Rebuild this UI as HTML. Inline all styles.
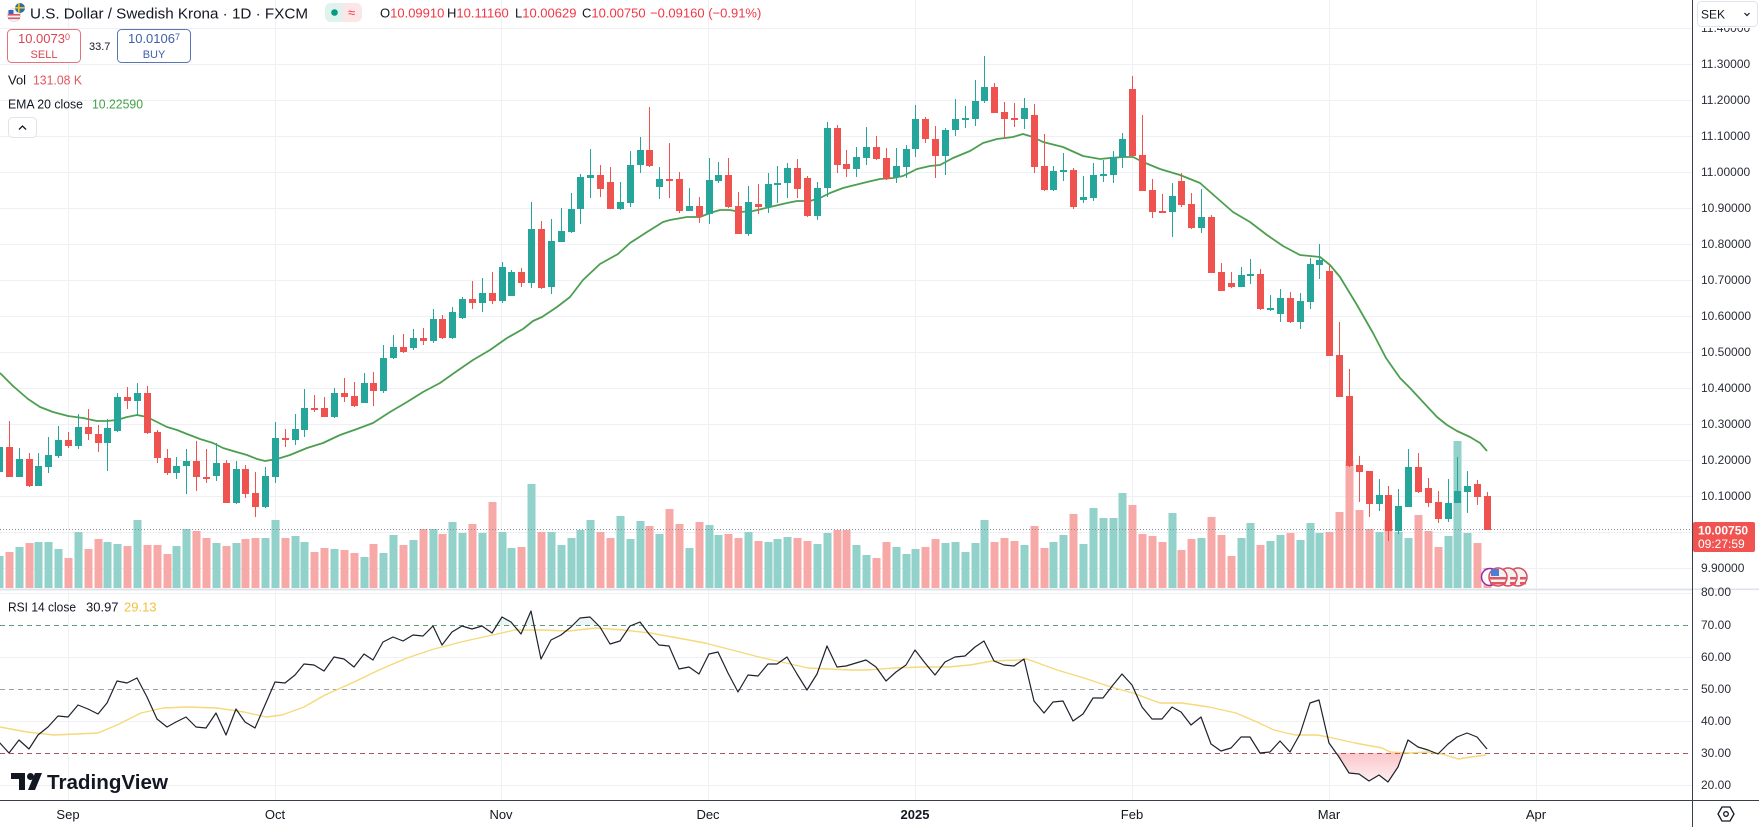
<!DOCTYPE html>
<html><head><meta charset="utf-8">
<style>
html,body{margin:0;padding:0;background:#fff;}
body{width:1759px;height:827px;overflow:hidden;position:relative;font-family:"Liberation Sans",sans-serif;}
svg{position:absolute;left:0;top:0;}
text{font-family:"Liberation Sans",sans-serif;}
</style></head>
<body>
<svg width="1759" height="827" viewBox="0 0 1759 827" xmlns="http://www.w3.org/2000/svg">
<defs>
<clipPath id="cp"><rect x="0" y="0" width="1692" height="589"/></clipPath>
<clipPath id="cr"><rect x="0" y="590" width="1692" height="210"/></clipPath>
<clipPath id="ct"><rect x="1693" y="28" width="66" height="10"/></clipPath>
<linearGradient id="osg" x1="0" y1="0" x2="0" y2="1"><stop offset="0" stop-color="#f23645" stop-opacity="0.28"/><stop offset="1" stop-color="#f23645" stop-opacity="0.08"/></linearGradient>
</defs>
<rect width="1759" height="827" fill="#fff"/>
<!-- grid price pane -->
<g stroke="#eef0f3" stroke-width="1" shape-rendering="crispEdges">
<path d="M0 28.5H1692M0 64.5H1692M0 100.5H1692M0 136.5H1692M0 172.5H1692M0 208.5H1692M0 244.5H1692M0 280.5H1692M0 316.5H1692M0 352.5H1692M0 388.5H1692M0 424.5H1692M0 460.5H1692M0 496.5H1692M0 532.5H1692M0 568.5H1692"/>
<path d="M0 593.5H1692M0 657.5H1692M0 721.5H1692M0 785.5H1692"/>
<path d="M68.5 0V800M275.5 0V800M501.5 0V800M708.5 0V800M915.5 0V800M1132.5 0V800M1329.5 0V800M1536.5 0V800"/>
</g>
<!-- pane separator -->
<path d="M0 589.5H1759" stroke="#e0e3eb" stroke-width="2"/>
<g clip-path="url(#cp)">
<!-- volume -->
<path fill="#92d2cb" d="M-4.5 556h8V588h-8zM15.5 547h8V588h-8zM34.5 542h8V588h-8zM44.5 542h8V588h-8zM54.5 549h8V588h-8zM74.5 532h8V588h-8zM103.5 542h8V588h-8zM113.5 544h8V588h-8zM133.5 520h8V588h-8zM172.5 546h8V588h-8zM182.5 529h8V588h-8zM212.5 543h8V588h-8zM232.5 543h8V588h-8zM261.5 538h8V588h-8zM271.5 520h8V588h-8zM291.5 536h8V588h-8zM300.5 542h8V588h-8zM330.5 549h8V588h-8zM360.5 557h8V588h-8zM379.5 553h8V588h-8zM389.5 535h8V588h-8zM409.5 540h8V588h-8zM429.5 529h8V588h-8zM448.5 522h8V588h-8zM458.5 533h8V588h-8zM478.5 533h8V588h-8zM498.5 532h8V588h-8zM507.5 548h8V588h-8zM527.5 484h8V588h-8zM547.5 532h8V588h-8zM557.5 545h8V588h-8zM567.5 538h8V588h-8zM576.5 530h8V588h-8zM586.5 520h8V588h-8zM616.5 516h8V588h-8zM626.5 539h8V588h-8zM636.5 521h8V588h-8zM655.5 534h8V588h-8zM685.5 548h8V588h-8zM705.5 525h8V588h-8zM714.5 535h8V588h-8zM744.5 532h8V588h-8zM764.5 542h8V588h-8zM773.5 539h8V588h-8zM783.5 537h8V588h-8zM813.5 544h8V588h-8zM823.5 533h8V588h-8zM852.5 545h8V588h-8zM862.5 555h8V588h-8zM892.5 547h8V588h-8zM902.5 554h8V588h-8zM911.5 549h8V588h-8zM941.5 543h8V588h-8zM951.5 542h8V588h-8zM961.5 552h8V588h-8zM971.5 543h8V588h-8zM980.5 520h8V588h-8zM1020.5 545h8V588h-8zM1049.5 542h8V588h-8zM1059.5 535h8V588h-8zM1079.5 544h8V588h-8zM1089.5 508h8V588h-8zM1099.5 518h8V588h-8zM1109.5 518h8V588h-8zM1118.5 493h8V588h-8zM1168.5 513h8V588h-8zM1197.5 538h8V588h-8zM1237.5 538h8V588h-8zM1246.5 523h8V588h-8zM1266.5 541h8V588h-8zM1276.5 535h8V588h-8zM1296.5 540h8V588h-8zM1306.5 523h8V588h-8zM1315.5 533h8V588h-8zM1375.5 532h8V588h-8zM1394.5 532h8V588h-8zM1404.5 538h8V588h-8zM1444.5 536h8V588h-8zM1453.5 441h8V588h-8zM1463.5 533h8V588h-8z"/>
<path fill="#f7a9a7" d="M5.5 552h8V588h-8zM25.5 543h8V588h-8zM64.5 558h8V588h-8zM84.5 549h8V588h-8zM94.5 539h8V588h-8zM123.5 546h8V588h-8zM143.5 545h8V588h-8zM153.5 545h8V588h-8zM163.5 554h8V588h-8zM192.5 531h8V588h-8zM202.5 538h8V588h-8zM222.5 546h8V588h-8zM241.5 539h8V588h-8zM251.5 538h8V588h-8zM281.5 538h8V588h-8zM310.5 552h8V588h-8zM320.5 548h8V588h-8zM340.5 550h8V588h-8zM350.5 553h8V588h-8zM369.5 544h8V588h-8zM399.5 545h8V588h-8zM419.5 529h8V588h-8zM438.5 534h8V588h-8zM468.5 524h8V588h-8zM488.5 502h8V588h-8zM517.5 547h8V588h-8zM537.5 532h8V588h-8zM596.5 532h8V588h-8zM606.5 538h8V588h-8zM645.5 526h8V588h-8zM665.5 509h8V588h-8zM675.5 524h8V588h-8zM695.5 522h8V588h-8zM724.5 534h8V588h-8zM734.5 538h8V588h-8zM754.5 541h8V588h-8zM793.5 538h8V588h-8zM803.5 541h8V588h-8zM833.5 530h8V588h-8zM842.5 530h8V588h-8zM872.5 558h8V588h-8zM882.5 542h8V588h-8zM921.5 547h8V588h-8zM931.5 539h8V588h-8zM990.5 542h8V588h-8zM1000.5 538h8V588h-8zM1010.5 541h8V588h-8zM1030.5 526h8V588h-8zM1040.5 548h8V588h-8zM1069.5 514h8V588h-8zM1128.5 505h8V588h-8zM1138.5 534h8V588h-8zM1148.5 536h8V588h-8zM1158.5 542h8V588h-8zM1177.5 550h8V588h-8zM1187.5 539h8V588h-8zM1207.5 517h8V588h-8zM1217.5 535h8V588h-8zM1227.5 556h8V588h-8zM1256.5 545h8V588h-8zM1286.5 533h8V588h-8zM1325.5 532h8V588h-8zM1335.5 512h8V588h-8zM1345.5 461h8V588h-8zM1355.5 510h8V588h-8zM1365.5 529h8V588h-8zM1384.5 520h8V588h-8zM1414.5 515h8V588h-8zM1424.5 531h8V588h-8zM1434.5 547h8V588h-8zM1473.5 543h8V588h-8zM1483.5 568h8V588h-8z"/>
<!-- last price line -->
<path d="M0 529.5H1692" stroke="#8a8e99" stroke-width="1" stroke-dasharray="1,2"/>
<!-- EMA -->
<polyline fill="none" stroke="#4c9f50" stroke-width="1.8" stroke-linejoin="round" points="0,373 13,386 28,399 40,407 53,412 68,416 83,418 97,421 107,421 117,420 127,417 137,415 147,417 157,422 167,427 177,430 187,434 200,439 213,443 223,448 233,451 247,455 257,459 265,461 277,459 290,455 307,448 323,443 340,435 357,429 373,423 390,412 407,402 423,392 440,383 457,371 473,360 490,350 507,338 523,329 533,321 542,317 557,307 570,297 583,280 600,264 618,254 630,243 647,232 663,222 670,220 687,217 700,217 710,213 720,210 730,210 740,212 753,211 770,207 787,203 797,201 810,201 820,198 830,193 843,188 867,182 880,179 893,178 903,176 917,169 930,166 940,165 953,158 970,151 983,143 997,139 1013,137 1023,134 1033,137 1043,142 1063,147 1083,156 1100,159 1110,158 1123,157 1133,157 1143,162 1160,169 1180,175 1200,183 1217,198 1233,212 1250,222 1267,235 1283,246 1300,255 1320,257 1330,265 1340,277 1357,305 1373,333 1386,358 1400,378 1410,388 1423,402 1437,417 1447,425 1457,431 1470,437 1480,443 1487,451"/>
<!-- wicks -->
<path fill="none" stroke="#26a69a" stroke-width="1" d="M-.5 440V478M19.5 448V477M38.5 453V486M48.5 437V473M58.5 426V458M78.5 414V449M107.5 419V471M117.5 393V432M137.5 383V415M176.5 457V479M186.5 449V494M216.5 443V481M236.5 461V504M265.5 467V508M275.5 422V483M295.5 414V445M304.5 389V437M334.5 388V418M364.5 373V403M383.5 345V393M393.5 335V359M413.5 329V350M433.5 309V343M452.5 307V339M462.5 297V319M482.5 278V312M502.5 262V303M511.5 270V296M531.5 202V288M551.5 219V294M561.5 208V242M571.5 193V233M580.5 174V224M590.5 149V198M620.5 182V210M630.5 151V207M640.5 137V173M659.5 167V199M689.5 188V211M709.5 158V224M718.5 162V183M748.5 186V236M768.5 173V213M777.5 166V203M787.5 163V198M817.5 182V220M827.5 122V197M856.5 147V177M866.5 127V165M896.5 148V183M906.5 145V178M915.5 105V157M945.5 128V175M955.5 99V136M965.5 106V128M975.5 80V126M984.5 56V103M1024.5 98V129M1053.5 166V191M1063.5 153V181M1083.5 176V203M1093.5 163V201M1103.5 160V182M1113.5 151V183M1122.5 133V168M1172.5 183V237M1201.5 189V233M1241.5 267V287M1250.5 259V284M1270.5 295V311M1280.5 289V322M1300.5 293V329M1310.5 258V309M1319.5 244V279M1379.5 479V511M1398.5 489V534M1408.5 449V507M1448.5 479V522M1457.5 457V503M1467.5 471V513"/>
<path fill="none" stroke="#ef5350" stroke-width="1" d="M9.5 421V477M29.5 453V487M68.5 432V448M88.5 409V440M98.5 425V452M127.5 387V409M147.5 386V434M157.5 430V463M167.5 449V475M196.5 441V491M206.5 449V483M226.5 460V503M245.5 465V498M255.5 472V517M285.5 429V447M314.5 395V412M324.5 397V417M344.5 378V402M354.5 382V407M373.5 372V406M403.5 334V353M423.5 328V345M442.5 315V339M472.5 281V309M492.5 272V304M521.5 268V287M541.5 221V289M600.5 165V197M610.5 167V209M649.5 107V167M669.5 143V198M679.5 172V213M699.5 197V223M728.5 158V208M738.5 192V234M758.5 184V214M797.5 159V198M807.5 176V217M837.5 125V173M846.5 150V177M876.5 136V160M886.5 148V180M925.5 117V143M935.5 126V178M994.5 83V113M1004.5 102V139M1014.5 103V127M1034.5 104V173M1044.5 134V191M1073.5 168V209M1132.5 76V157M1142.5 115V191M1152.5 179V218M1162.5 194V213M1181.5 173V207M1191.5 193V229M1211.5 215V273M1221.5 263V291M1231.5 272V288M1260.5 269V310M1290.5 292V323M1329.5 265V356M1339.5 322V397M1349.5 369V467M1359.5 456V502M1369.5 471V517M1388.5 486V541M1418.5 453V493M1428.5 478V507M1438.5 491V523M1477.5 480V505M1487.5 492V530"/>
<!-- bodies -->
<path fill="#26a69a" d="M-4 447h7v25h-7zM16 459h7v18h-7zM35 466h7v20h-7zM45 455h7v12h-7zM55 440h7v16h-7zM75 427h7v19h-7zM104 428h7v15h-7zM114 397h7v34h-7zM134 393h7v8h-7zM173 466h7v7h-7zM183 461h7v5h-7zM213 463h7v13h-7zM233 469h7v34h-7zM262 476h7v31h-7zM272 438h7v39h-7zM292 429h7v11h-7zM301 408h7v22h-7zM331 393h7v24h-7zM361 383h7v20h-7zM380 358h7v33h-7zM390 347h7v11h-7zM410 338h7v10h-7zM430 319h7v22h-7zM449 312h7v26h-7zM459 299h7v19h-7zM479 293h7v10h-7zM499 267h7v34h-7zM508 272h7v24h-7zM528 229h7v54h-7zM548 241h7v46h-7zM558 231h7v11h-7zM568 209h7v23h-7zM577 177h7v32h-7zM587 175h7v3h-7zM617 202h7v7h-7zM627 165h7v38h-7zM637 150h7v15h-7zM656 179h7v8h-7zM686 206h7v5h-7zM706 180h7v34h-7zM715 175h7v6h-7zM745 202h7v32h-7zM765 184h7v23h-7zM774 183h7v2h-7zM784 168h7v15h-7zM814 188h7v28h-7zM824 128h7v60h-7zM853 157h7v12h-7zM863 147h7v11h-7zM893 166h7v11h-7zM903 149h7v18h-7zM912 119h7v30h-7zM942 130h7v26h-7zM952 119h7v11h-7zM962 118h7v2h-7zM972 101h7v18h-7zM981 87h7v14h-7zM1021 108h7v11h-7zM1050 171h7v19h-7zM1060 170h7v2h-7zM1080 197h7v3h-7zM1090 175h7v23h-7zM1100 174h7v2h-7zM1110 157h7v18h-7zM1119 139h7v18h-7zM1169 196h7v16h-7zM1198 217h7v11h-7zM1238 275h7v12h-7zM1247 274h7v2h-7zM1267 308h7v2h-7zM1277 298h7v16h-7zM1297 301h7v21h-7zM1307 264h7v38h-7zM1316 260h7v5h-7zM1376 495h7v9h-7zM1395 506h7v25h-7zM1405 467h7v40h-7zM1445 503h7v16h-7zM1454 491h7v12h-7zM1464 486h7v6h-7z"/>
<path fill="#ef5350" d="M6 447h7v30h-7zM26 459h7v27h-7zM65 440h7v6h-7zM85 427h7v7h-7zM95 434h7v9h-7zM124 397h7v4h-7zM144 393h7v40h-7zM154 432h7v26h-7zM164 458h7v15h-7zM193 461h7v16h-7zM203 477h7v2h-7zM223 463h7v40h-7zM242 469h7v25h-7zM252 493h7v14h-7zM282 438h7v2h-7zM311 408h7v2h-7zM321 408h7v9h-7zM341 393h7v4h-7zM351 396h7v10h-7zM370 383h7v8h-7zM400 347h7v5h-7zM420 338h7v3h-7zM439 319h7v19h-7zM469 299h7v4h-7zM489 293h7v8h-7zM518 272h7v11h-7zM538 229h7v59h-7zM597 175h7v14h-7zM607 182h7v27h-7zM646 150h7v16h-7zM666 179h7v2h-7zM676 179h7v32h-7zM696 206h7v11h-7zM725 175h7v32h-7zM735 206h7v28h-7zM755 204h7v3h-7zM794 168h7v21h-7zM804 178h7v38h-7zM834 128h7v37h-7zM843 164h7v5h-7zM873 147h7v12h-7zM883 158h7v21h-7zM922 119h7v20h-7zM932 139h7v17h-7zM991 87h7v26h-7zM1001 112h7v7h-7zM1011 118h7v2h-7zM1031 115h7v52h-7zM1041 166h7v24h-7zM1070 170h7v37h-7zM1129 89h7v67h-7zM1139 155h7v36h-7zM1149 190h7v22h-7zM1159 211h7v2h-7zM1178 181h7v24h-7zM1188 204h7v24h-7zM1208 217h7v56h-7zM1218 272h7v19h-7zM1228 283h7v4h-7zM1257 274h7v35h-7zM1287 298h7v24h-7zM1326 271h7v85h-7zM1336 355h7v42h-7zM1346 396h7v70h-7zM1356 465h7v7h-7zM1366 471h7v33h-7zM1385 495h7v36h-7zM1415 467h7v25h-7zM1425 488h7v15h-7zM1435 502h7v17h-7zM1474 484h7v13h-7zM1484 496h7v34h-7z"/>
<!-- event flags -->
<circle cx="1490" cy="577" r="8.5" fill="#fff" stroke="#9c27b0" stroke-width="1.5"/>
<g stroke="#d84a5a" stroke-width="1.5">
<circle cx="1518" cy="577" r="9" fill="#f2f2f2"/>
<circle cx="1508" cy="577" r="9" fill="#f2f2f2"/>
<circle cx="1498" cy="577" r="9" fill="#f2f2f2"/>
</g>
<g fill="#e05565"><rect x="1490" y="577" width="16" height="2.5"/><rect x="1490" y="582" width="16" height="2.5"/><rect x="1510" y="577" width="6" height="2.5"/><rect x="1520" y="577" width="6" height="2.5"/><rect x="1510" y="582" width="6" height="2.5"/><rect x="1520" y="582" width="6" height="2.5"/></g>
<rect x="1491" y="569" width="8" height="7" fill="#4a7fd6"/>
</g>
<!-- RSI pane -->
<g clip-path="url(#cr)">
<path d="M0 625.5H1692" stroke="#5f9a78" stroke-width="1" stroke-dasharray="5,4"/>
<path d="M0 689.5H1692" stroke="#9aa0a8" stroke-width="1" stroke-dasharray="5,4"/>
<path d="M0 753.5H1692" stroke="#a4555d" stroke-width="1" stroke-dasharray="5,4"/>
<polygon fill="url(#osg)" points="1336,753 1339,757 1349,773 1359,774 1369,781 1379,775 1388,782 1398,767 1403,753"/>
<g fill="#089981" fill-opacity="0.08">
<polygon points="497,625 502,617 511,622 513.5,625"/>
<polygon points="525,625 531,611 534,625"/>
<polygon points="573,625 580,618 590,617 598,625"/>
<polygon points="632.5,625 640,622 642,625"/>
</g>
<polyline fill="none" stroke="#f5d97a" stroke-width="1.4" stroke-linejoin="round" points="0,727 27,732 54,735 98,733 117,725 141,713 163,708 187,707 217,708 244,712 266,717 282,715 304,707 325,695 352,683 379,670 407,658 434,649 461,642 488,636 515,630 542,630 569,631 596,628 623,630 650,633 678,638 705,643 732,650 759,657 786,663 808,668 829,669 850,670 867,670 894,668 921,667 948,667 970,665 992,661 1019,660 1027,659 1057,670 1084,678 1111,687 1133,693 1160,703 1182,703 1209,707 1236,713 1257,722 1274,730 1295,735 1317,735 1328,737 1355,743 1382,748 1390,752 1409,753 1428,752 1442,754 1458,759 1471,757 1486,755"/>
<polyline fill="none" stroke="#1e222d" stroke-width="1.2" stroke-linejoin="round" points="-1,742 9,753 19,740 29,749 38,735 48,727 58,716 68,717 78,705 88,709 98,714 107,703 117,681 127,683 137,678 147,697 157,719 167,727 176,722 186,717 196,727 206,728 216,713 226,735 236,709 245,722 255,728 265,705 275,682 285,683 295,675 304,664 314,665 324,671 334,657 344,659 354,667 364,654 373,660 383,642 393,637 403,641 413,635 423,636 433,626 442,645 452,632 462,626 472,629 482,626 492,633 502,617 511,622 521,634 531,611 541,659 551,640 561,635 571,627 580,618 590,617 600,627 610,644 620,641 630,626 640,622 649,634 659,645 669,646 679,669 689,667 699,674 709,654 718,652 728,673 738,692 748,675 758,676 768,664 777,664 787,657 797,674 807,690 817,674 827,646 837,667 846,666 856,663 866,660 876,667 886,681 896,672 906,665 915,650 925,663 935,675 945,662 955,657 965,656 975,647 984,641 994,661 1004,665 1014,666 1024,659 1034,701 1044,713 1053,702 1063,701 1073,721 1083,714 1093,698 1103,698 1113,685 1122,674 1132,685 1142,707 1152,719 1162,719 1172,707 1181,712 1191,725 1201,717 1211,744 1221,751 1231,748 1241,737 1250,737 1260,753 1270,752 1280,741 1290,752 1300,734 1310,703 1319,700 1329,743 1339,757 1349,773 1359,774 1369,781 1379,775 1388,782 1398,767 1408,740 1418,747 1428,750 1438,754 1448,744 1457,737 1467,733 1477,737 1487,749"/>
</g>
<!-- axes lines -->
<path d="M1692.5 0V827" stroke="#3a3e48" stroke-width="1"/>
<path d="M0 800.5H1759" stroke="#3a3e48" stroke-width="1"/>
<!-- price axis labels -->
<g font-size="12" fill="#2a2e39">
<text x="1701" y="32" clip-path="url(#ct)">11.40000</text>
<text x="1701" y="68">11.30000</text>
<text x="1701" y="104">11.20000</text>
<text x="1701" y="140">11.10000</text>
<text x="1701" y="176">11.00000</text>
<text x="1701" y="212">10.90000</text>
<text x="1701" y="248">10.80000</text>
<text x="1701" y="284">10.70000</text>
<text x="1701" y="320">10.60000</text>
<text x="1701" y="356">10.50000</text>
<text x="1701" y="392">10.40000</text>
<text x="1701" y="428">10.30000</text>
<text x="1701" y="464">10.20000</text>
<text x="1701" y="500">10.10000</text>
<text x="1701" y="572">9.90000</text>
</g>
<rect x="1693" y="590" width="66" height="3" fill="#fff"/>
<g font-size="12" fill="#2a2e39">
<text x="1701" y="596">80.00</text>
<text x="1701" y="629">70.00</text>
<text x="1701" y="661">60.00</text>
<text x="1701" y="693">50.00</text>
<text x="1701" y="725">40.00</text>
<text x="1701" y="757">30.00</text>
<text x="1701" y="789">20.00</text>
</g>
<!-- SEK box -->
<rect x="1697.5" y="1.5" width="60" height="25" rx="4" fill="#fff" stroke="#e0e3eb"/>
<text x="1701" y="18.5" font-size="12" fill="#131722">SEK</text>
<path d="M1744.5 13l2.5 2.5 2.5-2.5" fill="none" stroke="#131722" stroke-width="1.2"/>
<!-- last price label -->
<rect x="1693" y="522" width="62" height="30" rx="2" fill="#f05350"/>
<text x="1698" y="534.5" font-size="12" font-weight="bold" fill="#fff">10.00750</text>
<text x="1698" y="548" font-size="12" fill="#fff">09:27:59</text>
<!-- gear -->
<polygon points="1734,814 1730,821 1722,821 1718,814 1722,807 1730,807" fill="none" stroke="#131722" stroke-width="1.3"/>
<circle cx="1726" cy="814" r="2.3" fill="none" stroke="#131722" stroke-width="1.3"/>
<!-- time axis -->
<g font-size="13" fill="#131722" text-anchor="middle">
<text x="68" y="819">Sep</text>
<text x="275" y="819">Oct</text>
<text x="501" y="819">Nov</text>
<text x="708" y="819">Dec</text>
<text x="915" y="819" font-weight="bold">2025</text>
<text x="1132" y="819">Feb</text>
<text x="1329" y="819">Mar</text>
<text x="1536" y="819">Apr</text>
</g>
<!-- header -->
<circle cx="14" cy="15" r="6.5" fill="#f4f4f4" stroke="#c9cdd4" stroke-width=".6"/>
<rect x="8" y="14" width="12" height="1.6" fill="#e05565"/><rect x="8" y="17.5" width="12" height="1.6" fill="#e05565"/>
<rect x="8.5" y="10" width="5" height="4" fill="#3d63b8"/>
<circle cx="20" cy="8" r="5" fill="#2a6ebb"/><rect x="15" y="7" width="10" height="1.6" fill="#f5c400"/><rect x="18" y="3" width="1.6" height="10" fill="#f5c400"/>
<text x="30" y="18.5" font-size="15" fill="#131722" textLength="278" lengthAdjust="spacingAndGlyphs">U.S. Dollar / Swedish Krona · 1D · FXCM</text>
<rect x="325" y="3" width="37" height="19" rx="6" fill="#fde6e8"/>
<path d="M331 3h12v19h-12a6 6 0 0 1-6-6v-7a6 6 0 0 1 6-6z" fill="#def3ec"/>
<circle cx="334.5" cy="12.5" r="3.3" fill="#089981"/>
<text x="348" y="17" font-size="13" fill="#f23645">≈</text>
<g font-size="13">
<text x="380" y="17.5" fill="#131722">O<tspan fill="#f23645">10.09910</tspan></text>
<text x="447" y="17.5" fill="#131722">H<tspan fill="#f23645">10.11160</tspan></text>
<text x="515" y="17.5" fill="#131722">L<tspan fill="#f23645">10.00629</tspan></text>
<text x="582" y="17.5" fill="#131722">C<tspan fill="#f23645">10.00750</tspan></text>
<text x="650" y="17.5" fill="#f23645">−0.09160 (−0.91%)</text>
</g>
<rect x="7.5" y="29.5" width="73" height="33" rx="4" fill="#fff" stroke="#e5737c"/>
<text x="44" y="43" font-size="13" fill="#d94552" text-anchor="middle">10.0073<tspan font-size="9" dy="-3">0</tspan></text>
<text x="44" y="58" font-size="11" fill="#d94552" text-anchor="middle">SELL</text>
<text x="89" y="50" font-size="11" fill="#131722">33.7</text>
<rect x="117.5" y="29.5" width="73" height="33" rx="4" fill="#fff" stroke="#5b75b6"/>
<text x="154" y="43" font-size="13" fill="#3f5fa8" text-anchor="middle">10.0106<tspan font-size="9" dy="-3">7</tspan></text>
<text x="154" y="58" font-size="11" fill="#3f5fa8" text-anchor="middle">BUY</text>
<text x="8" y="84.5" font-size="13" fill="#131722">Vol</text>
<text x="33" y="84.5" font-size="13" fill="#e0575e" textLength="49" lengthAdjust="spacingAndGlyphs">131.08 K</text>
<text x="8" y="108.5" font-size="13" fill="#131722" textLength="75" lengthAdjust="spacingAndGlyphs">EMA 20 close</text>
<text x="92" y="108.5" font-size="13" fill="#43a047" textLength="51" lengthAdjust="spacingAndGlyphs">10.22590</text>
<rect x="8.5" y="117.5" width="28" height="20" rx="4" fill="#fff" stroke="#e0e3eb"/>
<path d="M19 129.5l3.5-3.5 3.5 3.5" fill="none" stroke="#131722" stroke-width="1.3"/>
<!-- RSI legend -->
<text x="8" y="611.5" font-size="13" fill="#131722" textLength="68" lengthAdjust="spacingAndGlyphs">RSI 14 close</text>
<text x="86" y="611.5" font-size="13" fill="#131722">30.97</text>
<text x="124" y="611.5" font-size="13" fill="#f0c23a">29.13</text>
<!-- TradingView logo -->
<g fill="#131722">
<path d="M11 773h14v17h-6v-11h-8z"/>
<circle cx="30.5" cy="776.5" r="3.5"/>
<path d="M35 773h7l-7 17h-7z"/>
</g>
<text x="47" y="789" font-size="20" font-weight="bold" fill="#131722" textLength="121" lengthAdjust="spacingAndGlyphs">TradingView</text>
</svg>
</body></html>
